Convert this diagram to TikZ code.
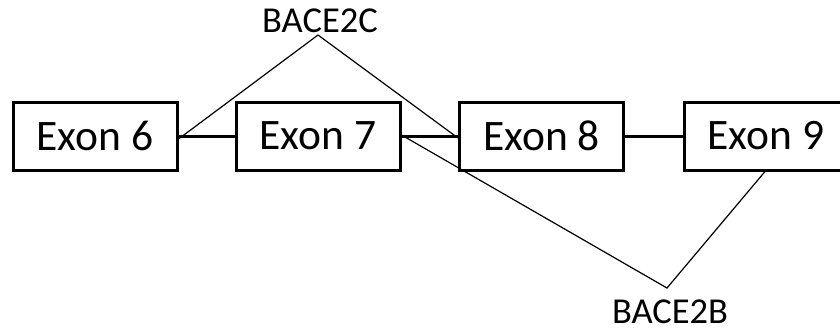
\documentclass[tikz,border=0pt]{standalone}
\usepackage{fontspec}
\setmainfont{Carlito}
\begin{document}
\begin{tikzpicture}[x=1pt,y=-1pt,
  exon/.style={draw,line width=3pt,minimum width=164pt,minimum height=68pt,inner sep=0pt,font=\fontsize{43.5}{48}\selectfont},
  intron/.style={line width=3pt},
  splice/.style={line width=1.2pt},
  lbl/.style={inner sep=0pt,font=\fontsize{36.5}{40}\selectfont}]
\useasboundingbox (0,0) rectangle (840,333);
\clip (0,0) rectangle (840,333);
\node[exon] (e6) at (95,136) {Exon 6};
\node[exon] (e7) at (318,136) {Exon 7};
\node[exon] (e8) at (541.5,136) {Exon 8};
\node[exon] (e9) at (766,136) {Exon 9};
\draw[intron] (e6) -- (e7);
\draw[intron] (e7) -- (e8);
\draw[intron] (e8) -- (e9);
\coordinate (c) at (318,35);
\coordinate (b) at (667,288);
\node[lbl] (lc) at (320,21) {BACE2C};
\node[lbl] (lb) at (670,312) {BACE2B};
\draw[splice] ([yshift=-3pt]e6.east) -- (c) -- ([yshift=-2pt]e8.west);
\draw[splice] ([yshift=1pt]e7.east) -- (b) -- ([xshift=-1pt]e9.south);
\end{tikzpicture}
\end{document}
